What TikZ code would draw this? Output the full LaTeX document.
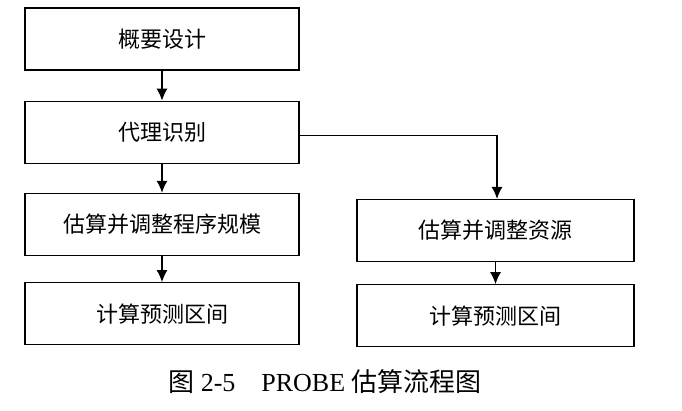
\documentclass[tikz,border=0pt]{standalone}
\usepackage{fontspec}
\setmainfont{Liberation Serif}
\newfontfamily\cjk{Noto Sans CJK SC}
\usetikzlibrary{arrows.meta, positioning}

\begin{document}
\begin{tikzpicture}[x=1pt, y=1pt, >={Latex[length=12pt, width=11pt]}, line width=1.2pt]
  \tikzstyle{proc}=[draw, align=center, minimum width=274pt, minimum height=62pt, inner sep=0pt, font=\cjk\fontsize{22}{26}\selectfont]
  \tikzstyle{wide}=[proc, minimum width=277pt]

  \useasboundingbox (0,0) rectangle (682,-410);

  % Left column
  \node[proc] (design) at (162,-39) {概要设计};
  \node[proc, below=30pt of design] (proxy) {代理识别};
  \node[proc, below=29pt of proxy] (size) {估算并调整程序规模};
  \node[proc, below=26pt of size] (rangeL) {计算预测区间};

  % Right column
  \node[wide] (res) at (495.5,-230.5) {估算并调整资源};
  \node[wide, below=22pt of res] (rangeR) {计算预测区间};

  % Caption
  \node[font=\fontsize{26}{31}\selectfont] (cap) at (325,-382) {{\cjk 图} 2-5\quad PROBE {\cjk 估算流程图}};

  \draw[->] (design) -- (proxy);
  \draw[->] (proxy) -- (size);
  \draw[->] (size) -- (rangeL);
  \draw[->] ([yshift=-3pt]proxy.east) -| ([xshift=1.5pt]res.north);
  \draw[->] (res) -- (rangeR);
\end{tikzpicture}
\end{document}
